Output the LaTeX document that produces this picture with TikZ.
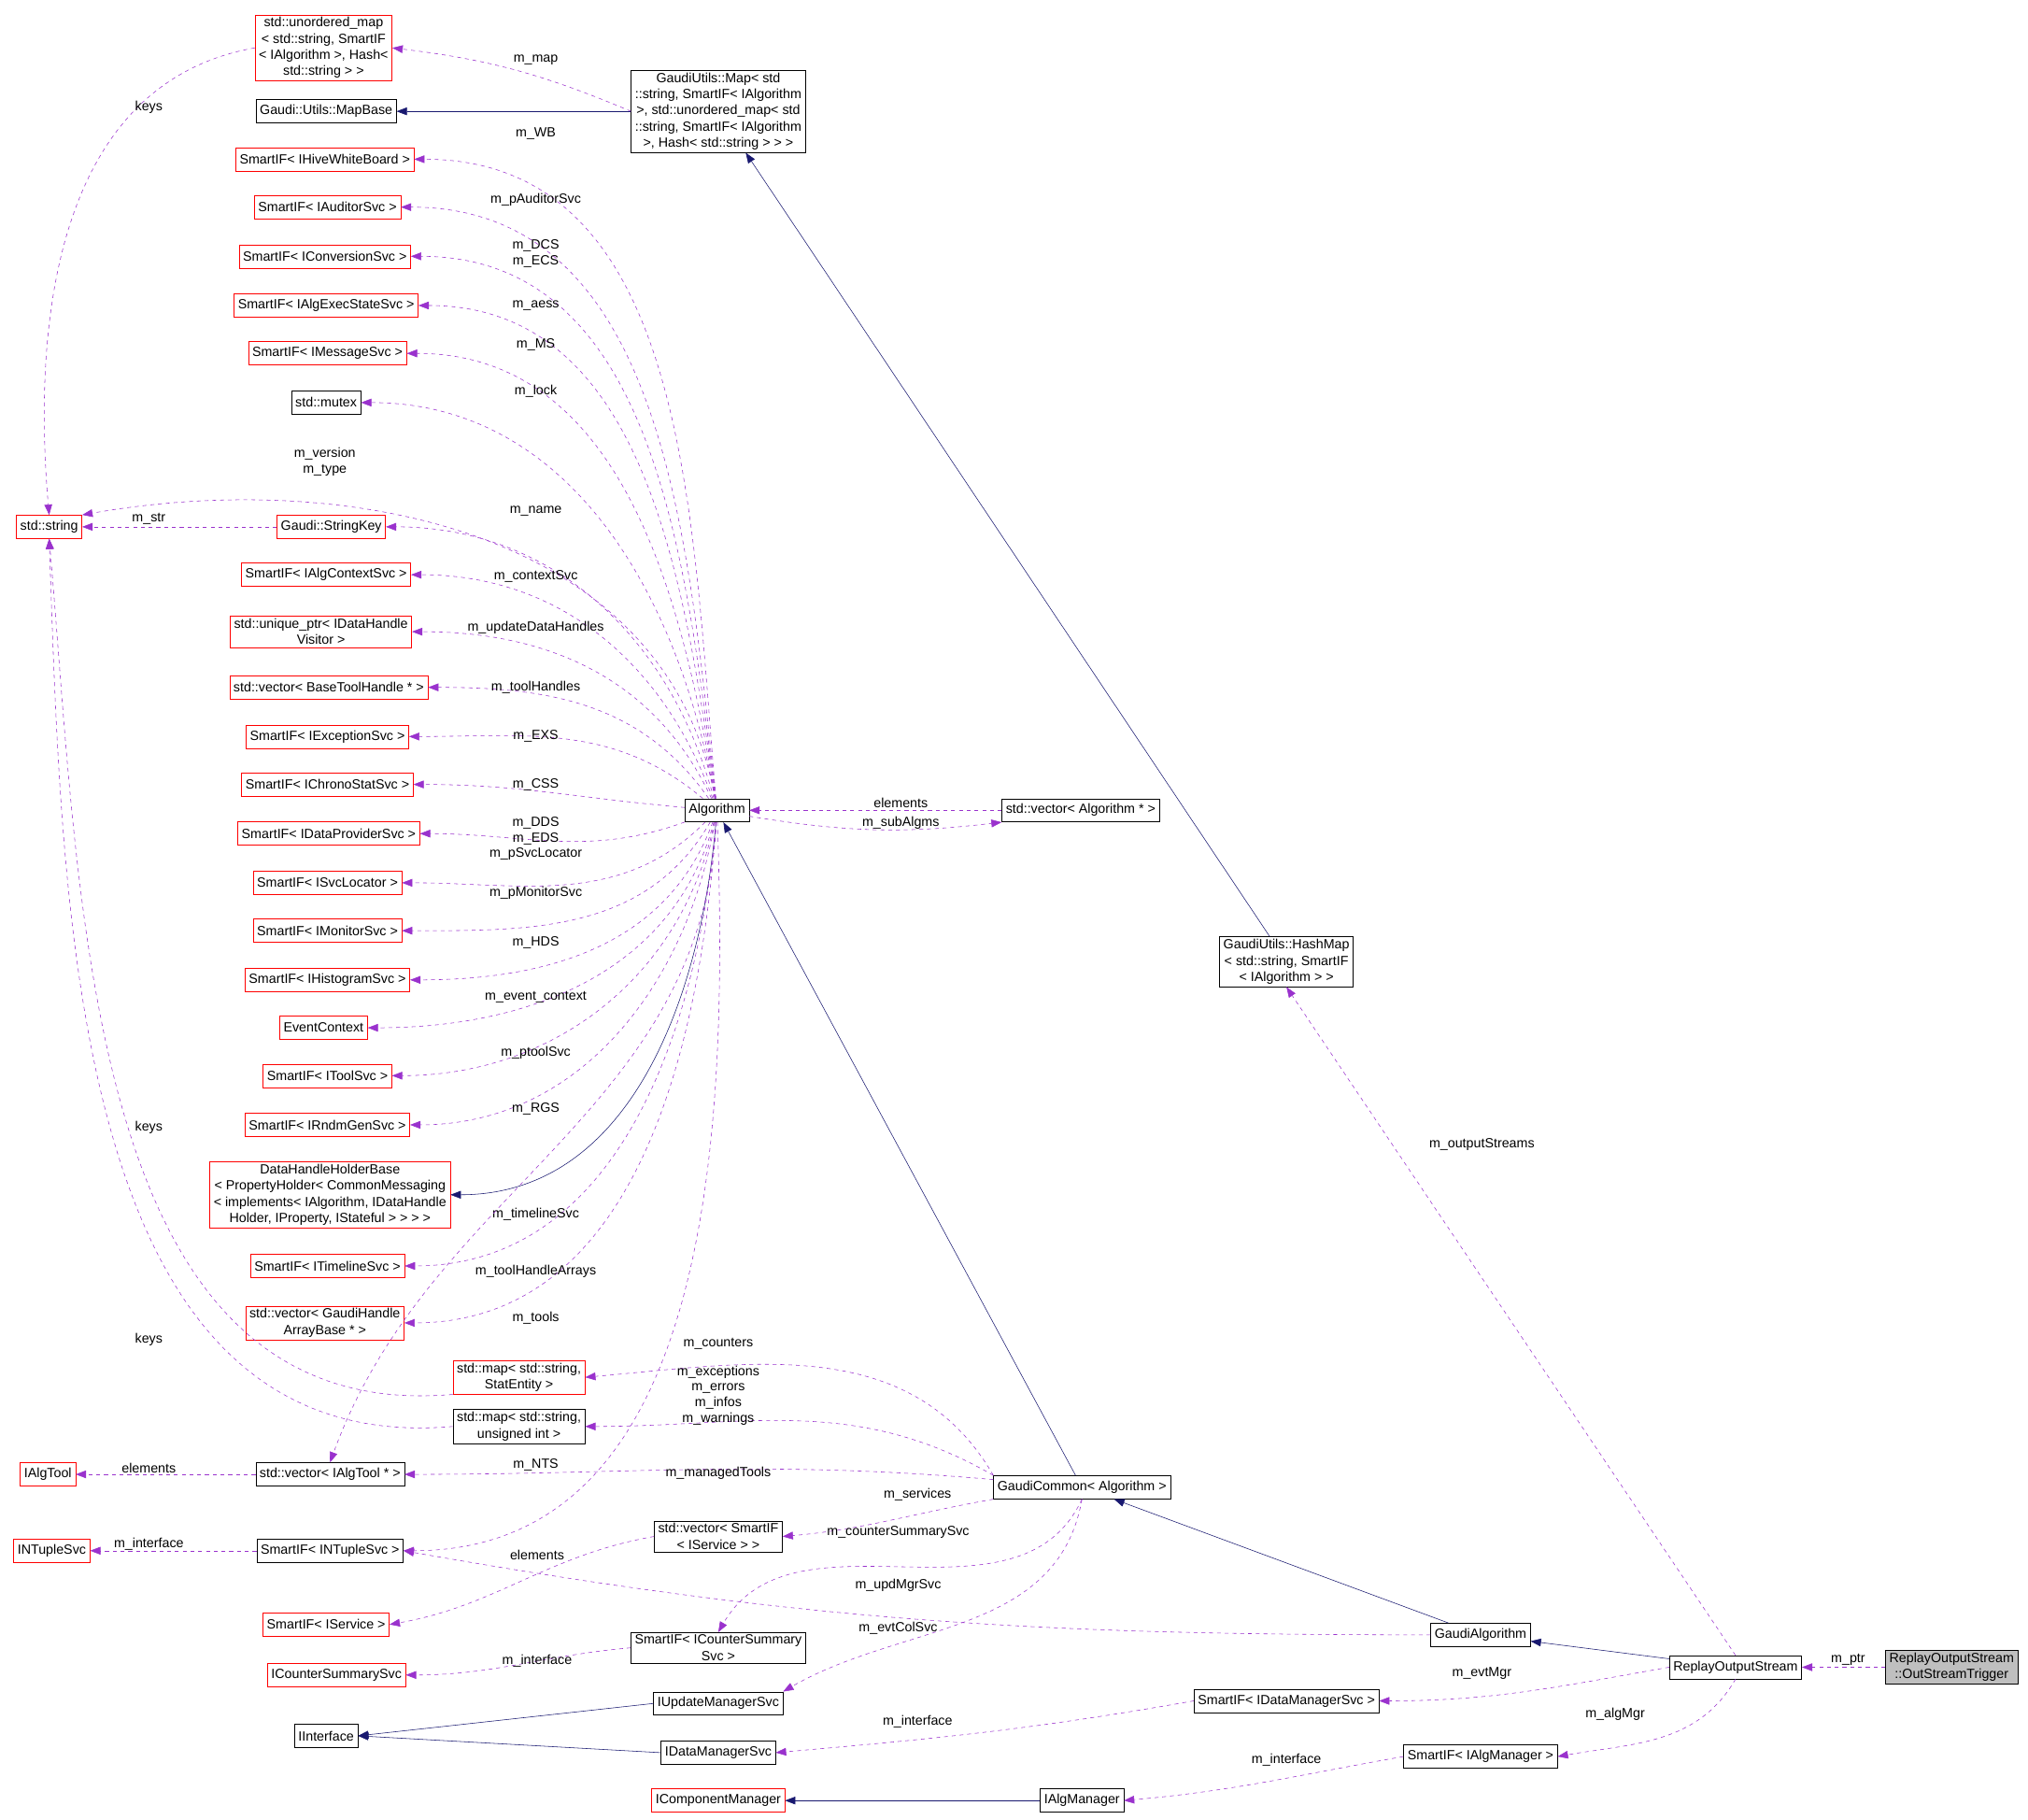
\documentclass[tikz,border=0pt]{standalone}
\usepackage{fontspec}
\setmainfont{Liberation Sans}
\usetikzlibrary{arrows.meta}

\definecolor{usecol}{HTML}{9A32CD}
\definecolor{inhcol}{HTML}{191970}

\tikzset{
  cls/.style={draw=black, fill=white, inner xsep=3pt, inner ysep=2pt,
    minimum height=18pt, align=center, font=\fontsize{10.3}{12.5}\selectfont},
  ext/.style={cls, draw=red},
  self/.style={cls, fill=black!25},
  use/.style={draw=usecol, dashed, -{Stealth[length=8pt,width=6pt,inset=0pt]}},
  inh/.style={draw=inhcol, -{Stealth[length=8pt,width=6pt,inset=0pt]}},
  lbl/.style={font=\fontsize{10.3}{12}\selectfont, align=center, inner sep=0pt}
}

\begin{document}
\begin{tikzpicture}[x=1pt, y=1pt]
    \useasboundingbox (0, 0) rectangle (1567, -1406);

    % left column
    \node [ext] (umap) at (250, -37) {std::unordered\_map\\< std::string, SmartIF\\< IAlgorithm >, Hash<\\std::string > >};
    \node [cls] (mapbase) at (252, -86) {Gaudi::Utils::MapBase};
    \node [ext] (whiteboard) at (251, -123) {SmartIF< IHiveWhiteBoard >};
    \node [ext] (auditor) at (253, -160) {SmartIF< IAuditorSvc >};
    \node [ext] (conversion) at (251, -198) {SmartIF< IConversionSvc >};
    \node [ext] (algexec) at (252, -236) {SmartIF< IAlgExecStateSvc >};
    \node [ext] (message) at (253, -273) {SmartIF< IMessageSvc >};
    \node [cls] (mutex) at (252, -311) {std::mutex};
    \node [ext] (string) at (38, -407) {std::string};
    \node [ext] (stringkey) at (256, -407) {Gaudi::StringKey};
    \node [ext] (algctx) at (252, -444) {SmartIF< IAlgContextSvc >};
    \node [ext] (uniqueptr) at (248, -488) {std::unique\_ptr< IDataHandle\\Visitor >};
    \node [ext] (vecbth) at (254, -531) {std::vector< BaseToolHandle * >};
    \node [ext] (exception) at (253, -569) {SmartIF< IExceptionSvc >};
    \node [ext] (chrono) at (253, -606) {SmartIF< IChronoStatSvc >};
    \node [ext] (dataprov) at (254, -644) {SmartIF< IDataProviderSvc >};
    \node [ext] (svcloc) at (253, -682) {SmartIF< ISvcLocator >};
    \node [ext] (monitor) at (253, -719) {SmartIF< IMonitorSvc >};
    \node [ext] (histo) at (253, -757) {SmartIF< IHistogramSvc >};
    \node [ext] (evctx) at (250, -794) {EventContext};
    \node [ext] (toolsvc) at (253, -831) {SmartIF< IToolSvc >};
    \node [ext] (rndm) at (253, -869) {SmartIF< IRndmGenSvc >};
    \node [ext] (dhhb) at (255, -923) {DataHandleHolderBase\\< PropertyHolder< CommonMessaging\\< implements< IAlgorithm, IDataHandle\\Holder, IProperty, IStateful > > > >};
    \node [ext] (timeline) at (253, -978) {SmartIF< ITimelineSvc >};
    \node [ext] (vecgha) at (251, -1022) {std::vector< GaudiHandle\\ArrayBase * >};
    \node [ext] (mapstat) at (401, -1064) {std::map< std::string,\\StatEntity >};
    \node [cls] (mapuint) at (401, -1102) {std::map< std::string,\\unsigned int >};
    \node [ext] (ialgtool) at (37, -1139) {IAlgTool};
    \node [cls] (vecalgtool) at (255, -1139) {std::vector< IAlgTool * >};
    \node [ext] (intuplesvc) at (40, -1198) {INTupleSvc};
    \node [cls] (sintuple) at (255, -1198) {SmartIF< INTupleSvc >};
    \node [ext] (sservice) at (252, -1255) {SmartIF< IService >};
    \node [ext] (icounter) at (260, -1294) {ICounterSummarySvc};
    \node [cls] (iinterface) at (252, -1341) {IInterface};

    % middle
    \node [cls] (gumap) at (555, -86) {GaudiUtils::Map< std\\::string, SmartIF< IAlgorithm\\>, std::unordered\_map< std\\::string, SmartIF< IAlgorithm\\>, Hash< std::string > > >};
    \node [cls] (algorithm) at (554, -626) {Algorithm};
    \node [cls] (vecalg) at (835, -626) {std::vector< Algorithm * >};
    \node [cls] (vecservice) at (555, -1187) {std::vector< SmartIF\\< IService > >};
    \node [cls] (scounter) at (555, -1273) {SmartIF< ICounterSummary\\Svc >};
    \node [cls] (iupdate) at (555, -1316) {IUpdateManagerSvc};
    \node [cls] (idatamgr) at (555, -1354) {IDataManagerSvc};
    \node [ext] (icompmgr) at (555, -1391) {IComponentManager};
    \node [cls] (gcommon) at (836, -1149) {GaudiCommon< Algorithm >};
    \node [cls] (ialgmgr) at (836, -1391) {IAlgManager};

    % right
    \node [cls] (hashmap) at (994, -743) {GaudiUtils::HashMap\\< std::string, SmartIF\\< IAlgorithm > >};
    \node [cls] (galg) at (1144, -1263) {GaudiAlgorithm};
    \node [cls] (sdatamgr) at (994, -1314) {SmartIF< IDataManagerSvc >};
    \node [cls] (salgmgr) at (1144, -1357) {SmartIF< IAlgManager >};
    \node [cls] (replay) at (1341, -1288) {ReplayOutputStream};
    \node [self] (trigger) at (1508, -1288) {ReplayOutputStream\\::OutStreamTrigger};

    % inheritance
    \draw [inh] (gumap) -- (mapbase);
    \draw [inh] (hashmap) -- (gumap);
    \draw [inh] (algorithm) to [out=265, in=0] (dhhb);
    \draw [inh] (gcommon) -- (algorithm);
    \draw [inh] (galg) -- (gcommon);
    \draw [inh] (replay) -- (galg);
    \draw [inh] (iupdate.west) -- (iinterface.east);
    \draw [inh] (idatamgr.west) -- (iinterface.east);
    \draw [inh] (ialgmgr) -- (icompmgr);

    % members of Algorithm
    \draw [use] (algorithm) to [out=95, in=0] (whiteboard) node [lbl] at (414, -103) {m\_WB};
    \draw [use] (algorithm) to [out=96, in=0] (auditor) node [lbl] at (414, -154) {m\_pAuditorSvc};
    \draw [use] (algorithm) to [out=97, in=0] (conversion) node [lbl] at (414, -196) {m\_DCS\\m\_ECS};
    \draw [use] (algorithm) to [out=98, in=0] (algexec) node [lbl] at (414, -236) {m\_aess};
    \draw [use] (algorithm) to [out=99, in=0] (message) node [lbl] at (414, -266) {m\_MS};
    \draw [use] (algorithm) to [out=100, in=0] (mutex) node [lbl] at (414, -302) {m\_lock};
    \draw [use] (algorithm) to [out=100, in=10] (string.north east) node [lbl] at (251, -357) {m\_version\\m\_type};
    \draw [use] (algorithm) to [out=105, in=0] (stringkey) node [lbl] at (414, -395) {m\_name};
    \draw [use] (algorithm) to [out=110, in=0] (algctx) node [lbl] at (414, -445) {m\_contextSvc};
    \draw [use] (algorithm) to [out=115, in=0] (uniqueptr) node [lbl] at (414, -485) {m\_updateDataHandles};
    \draw [use] (algorithm) to [out=125, in=0] (vecbth) node [lbl] at (414, -531) {m\_toolHandles};
    \draw [use] (algorithm) to [out=140, in=0] (exception) node [lbl] at (414, -569) {m\_EXS};
    \draw [use] (algorithm) to [out=175, in=0] (chrono) node [lbl] at (414, -606) {m\_CSS};
    \draw [use] (algorithm) to [out=200, in=0] (dataprov) node [lbl] at (414, -642) {m\_DDS\\m\_EDS};
    \draw [use] (algorithm) to [out=225, in=0] (svcloc) node [lbl] at (414, -660) {m\_pSvcLocator};
    \draw [use] (algorithm) to [out=240, in=0] (monitor) node [lbl] at (414, -690) {m\_pMonitorSvc};
    \draw [use] (algorithm) to [out=250, in=0] (histo) node [lbl] at (414, -728) {m\_HDS};
    \draw [use] (algorithm) to [out=255, in=0] (evctx) node [lbl] at (414, -770) {m\_event\_context};
    \draw [use] (algorithm) to [out=258, in=0] (toolsvc) node [lbl] at (414, -813) {m\_ptoolSvc};
    \draw [use] (algorithm) to [out=260, in=0] (rndm) node [lbl] at (414, -857) {m\_RGS};
    \draw [use] (algorithm) to [out=265, in=0] (timeline) node [lbl] at (414, -938) {m\_timelineSvc};
    \draw [use] (algorithm) to [out=266, in=0] (vecgha) node [lbl] at (414, -982) {m\_toolHandleArrays};
    \draw [use] (algorithm) to [out=267, in=70] (vecalgtool.north) node [lbl] at (414, -1018) {m\_tools};
    \draw [use] (algorithm) to [out=272, in=0] (sintuple) node [lbl] at (414, -1132) {m\_NTS};
    \draw [use] (vecalg) -- (algorithm) node [lbl] at (696, -620) {elements};
    \draw [use] (algorithm) to [bend right=8] (vecalg.south west) node [lbl] at (696, -636) {m\_subAlgms};

    % strings and maps
    \draw [use] (gumap.west) to [bend right=8] (umap.east) node [lbl] at (414, -46) {m\_map};
    \draw [use] (umap.west) to [out=190, in=95] (string.north) node [lbl] at (115, -83) {keys};
    \draw [use] (stringkey) -- (string) node [lbl] at (115, -401) {m\_str};
    \draw [use] (mapstat.south west) to [out=185, in=-85] (string.south) node [lbl] at (115, -871) {keys};
    \draw [use] (mapuint.west) to [out=185, in=-88] (string.south) node [lbl] at (115, -1035) {keys};

    % members of GaudiCommon
    \draw [use] (gcommon.north west) to [out=120, in=5] (mapstat.east) node [lbl] at (555, -1038) {m\_counters};
    \draw [use] (gcommon.north west) to [out=150, in=0] (mapuint.east) node [lbl] at (555, -1078) {m\_exceptions\\m\_errors\\m\_infos\\m\_warnings};
    \draw [use] (gcommon) to [out=175, in=0] (vecalgtool) node [lbl] at (555, -1138) {m\_managedTools};
    \draw [use] (gcommon.south west) to [out=190, in=5] (vecservice.east) node [lbl] at (709, -1155) {m\_services};
    \draw [use] (gcommon.south) to [out=245, in=60] (scounter.north) node [lbl] at (694, -1184) {m\_counterSummarySvc};
    \draw [use] (gcommon.south) to [out=260, in=30] (iupdate.north east) node [lbl] at (694, -1225) {m\_updMgrSvc};

    % elements and interfaces
    \draw [use] (vecalgtool) -- (ialgtool) node [lbl] at (115, -1134) {elements};
    \draw [use] (sintuple) -- (intuplesvc) node [lbl] at (115, -1193) {m\_interface};
    \draw [use] (vecservice.west) to [out=190, in=10] (sservice.east) node [lbl] at (415, -1201) {elements};
    \draw [use] (scounter.west) to [out=185, in=0] (icounter.east) node [lbl] at (415, -1283) {m\_interface};
    \draw [use] (galg.west) to [out=180, in=-10] (sintuple.east) node [lbl] at (694, -1258) {m\_evtColSvc};
    \draw [use] (sdatamgr.west) to [out=190, in=5] (idatamgr.east) node [lbl] at (709, -1330) {m\_interface};
    \draw [use] (salgmgr.west) to [out=190, in=5] (ialgmgr.east) node [lbl] at (994, -1360) {m\_interface};

    % members of ReplayOutputStream
    \draw [use] (replay.north) -- (hashmap.south) node [lbl] at (1145, -884) {m\_outputStreams};
    \draw [use] (replay.west) to [out=190, in=0] (sdatamgr.east) node [lbl] at (1145, -1293) {m\_evtMgr};
    \draw [use] (replay.south) to [out=240, in=10] (salgmgr.east) node [lbl] at (1248, -1324) {m\_algMgr};
    \draw [use] (trigger) -- (replay) node [lbl] at (1428, -1282) {m\_ptr};
\end{tikzpicture}
\end{document}
